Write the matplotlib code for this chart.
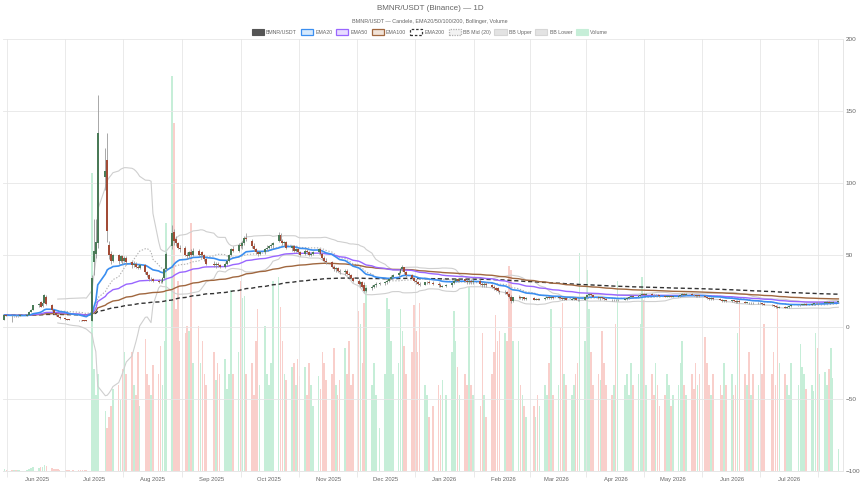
import numpy as np
import pandas as pd
import matplotlib
matplotlib.use("Agg")
import matplotlib.pyplot as plt
import matplotlib.dates as mdates
from matplotlib.patches import Patch
from matplotlib.ticker import FixedLocator, MultipleLocator

plt.rcParams['font.family'] = ['Liberation Sans', 'DejaVu Sans']

# ---------------- data ----------------
holidays = ['2025-05-26', '2025-06-19', '2025-07-04', '2025-09-01', '2025-11-27',
            '2025-12-25', '2026-01-01', '2026-01-19', '2026-02-16', '2026-04-03',
            '2026-05-25', '2026-06-19', '2026-07-03']
start_date = '2025-05-15'

opens = [
    # May 2025
    5.0, 8.2, 7.8, 7.5, 7.6, 7.4, 7.7, 7.9, 8.4, 10.6, 12.0,
    # Jun 2025
    15, 17.5, 14.5, 17, 21, 15, 11.5, 9.5, 8.2, 7.2, 6.2, 5.5, 5.1, 5.0, 4.8, 4.7, 4.6, 4.5, 4.4, 4.5,
    # Jul 2025
    45, 51, 58, 104, 116, 57, 51, 46, 50, 46, 49, 46, 48, 45, 43, 44, 42, 41, 43, 38, 36, 33,
    # Aug 2025
    33, 32, 31.5, 31, 34, 40, 56, 66, 61, 58, 55, 55, 50, 49, 52, 50, 53, 50, 52, 50, 47,
    # Sep 2025
    44, 43, 44, 43, 42, 44, 46, 50, 54, 53, 57, 56, 58, 62, 60, 56, 54, 52, 51, 52, 54,
    # Oct 2025
    55, 56, 57, 60, 64, 60, 58, 59, 55, 56, 53, 54, 52, 51, 53, 52, 50, 51, 52, 54, 51, 48, 46,
    # Nov 2025
    45, 42, 40, 41, 39, 38, 39, 37, 36, 34, 32, 30, 31, 29, 25, 27, 28, 29, 30,
    # Dec 2025
    30.5, 31, 32, 33.5, 35, 36, 37.5, 40, 41.5, 38, 36, 34, 32, 31, 30, 29.5, 31, 31.5, 30.5, 30, 29, 28,
    # Jan 2026
    28.5, 29, 30.5, 32, 33, 32, 33, 32, 31, 32, 31, 32, 30, 29, 30, 29, 28, 27, 27, 25,
    # Feb 2026
    24, 24, 23, 21, 18, 20.5, 21, 20, 20.5, 19.5, 20, 19, 19.5, 19, 19.5, 20, 20.5, 20, 20.5,
    # Mar 2026
    20, 20.5, 20, 19.5, 20, 19, 19.5, 20, 19, 18.5, 19, 20.5, 22, 23, 22, 21, 20, 20.5, 20, 19.5, 19, 18.5,
    # Apr 2026
    19, 18.5, 19, 19.5, 20, 21, 21.5, 21, 21.5, 22.5, 23, 22.5, 23, 22.5, 22, 22.5, 22, 21.5, 21, 21, 21.5,
    # May 2026
    21, 21, 21.5, 22, 23, 22.5, 23, 22.5, 22, 21.5, 22, 21.5, 21, 20, 19.5, 20, 19.5, 19, 18, 18.5,
    # Jun 2026
    18, 18.5, 18, 17.5, 18, 17.5, 17, 17, 16.5, 17, 16.5, 17, 16.5, 16, 15.5, 15, 14.5, 14, 13.5, 14, 13.5,
    # Jul 2026
    14, 14.5, 15, 15, 15.5, 15.5, 16, 15.5, 16, 16.5, 17, 16.5, 17, 17, 17.5, 17, 17, 17.5,
]

highs = [
    8.6, 8.5, 8.0, 7.9, 8.0, 7.8, 8.1, 8.8, 10.8, 12.5, 15.5,
    16.5, 18, 17.5, 23, 22.5, 16, 12, 10, 8.8, 7.6, 6.5, 5.8, 5.4, 5.2, 5.0, 4.9, 4.8, 4.7, 4.6, 36,
    75, 75, 161, 124, 135, 60, 53, 51, 51, 50, 50, 49, 49, 46, 46, 45, 43, 44, 44, 39, 37, 35,
    34, 33, 33, 35, 41, 52, 71, 68, 63, 59, 57, 56, 52, 53, 54, 55, 54, 52, 53, 51, 48,
    46, 45, 45, 44, 45, 47, 51, 55, 56, 58, 59, 60, 63, 65, 61, 58, 55, 53, 53, 55, 57,
    57, 58, 59, 66, 65, 61, 60, 60, 57, 57, 55, 55, 53, 54, 54, 53, 52, 53, 55, 54, 52, 49, 48,
    46, 43, 42, 42, 40, 40, 40, 38, 37, 35, 33, 32, 32, 31, 28, 29, 30, 31, 31,
    32, 33, 34, 36, 37, 39, 41, 43, 42, 39, 37, 35, 33, 32, 31, 31, 32, 32.5, 32, 31.5, 30.5, 29.5,
    30, 31, 33, 34, 34, 33.5, 34, 33, 33, 33, 33, 33, 31, 31, 31, 30, 29, 28, 28, 26,
    25.5, 25, 23.5, 22, 21, 22, 21.5, 21, 21, 20.5, 20.5, 20, 20, 20, 20.5, 21, 21, 21, 21,
    21, 21, 21, 20.5, 20.5, 20, 20.5, 20.5, 19.5, 19.5, 21, 22.5, 23.5, 23.5, 22.5, 21.5, 21, 21, 20.5, 20, 19.5, 19.5,
    19.5, 19.5, 20, 20.5, 21.5, 22, 22, 22, 23, 23.5, 23.5, 23.5, 23.5, 23, 23, 23, 22.5, 22, 21.5, 22, 22,
    21.5, 22, 22.5, 23.5, 23.5, 23.5, 23.5, 23, 22.5, 22.5, 22.5, 22, 21.5, 20.5, 20.5, 20.5, 20, 19.5, 19, 19,
    19, 19, 18.5, 18.5, 18.5, 18, 17.5, 17.5, 17.5, 17.5, 17.5, 17.5, 17, 16.5, 16, 15.5, 15, 14.5, 14.5, 14.5, 14.5,
    15, 15.5, 15.5, 16, 16, 16.5, 16.5, 16.5, 17, 17.5, 17.5, 17.5, 17.5, 18, 18, 17.5, 18, 18,
]

lows = [
    4.6, 7.4, 3.8, 7.0, 7.2, 7.0, 7.3, 7.6, 8.2, 10.2, 11.5,
    14, 13.8, 14, 16.5, 15, 11, 8.8, 7.5, 6.8, 5.8, 5.2, 4.9, 4.8, 4.6, 4.5, 4.4, 4.3, 4.2, 4.1, 4.3,
    36, 48, 55, 95, 59, 47, 44, 45, 44, 45, 44, 45, 43, 41, 42, 41, 40, 40, 37, 35, 32, 32,
    31, 30.5, 30.5, 30.5, 33, 39, 54, 57, 56, 54, 52, 49, 47, 48, 49, 49, 49, 48, 49, 46, 43,
    42, 41, 42, 41, 41, 43, 45, 49, 52, 52, 55, 54, 57, 60, 55, 53, 51, 49, 50, 51, 53,
    54, 55, 55, 59, 59, 57, 56, 54, 53, 52, 52, 51, 49, 50, 51, 49, 49, 50, 51, 50, 47, 45, 44,
    41, 39, 38, 38, 37, 36, 36, 35, 33, 31, 29, 28, 27, 24, 24, 26, 27, 28, 29,
    29.5, 30, 31, 33, 34, 35, 37, 39, 37, 35, 33, 31, 30, 29, 28.5, 29, 30, 30, 29, 28, 27.5, 27.5,
    27.5, 28, 30, 31, 31, 31, 31, 30, 30, 30, 30, 29, 28, 28, 28, 27, 26, 25, 24, 23,
    23, 22, 20, 17, 17.5, 19.5, 19.5, 19, 19, 19, 18.5, 18.5, 18.5, 18.5, 19, 19.5, 19.5, 19.5, 19.5,
    19.5, 19.5, 19, 19, 18.5, 18.5, 19, 18.5, 18, 18, 18.5, 20, 21.5, 21.5, 20.5, 19.5, 19, 19.5, 19, 18.5, 18, 18,
    18, 18, 18.5, 19, 19.5, 20.5, 20.5, 20.5, 21, 22, 22, 22, 22, 21.5, 21.5, 21.5, 21, 20.5, 20.5, 20.5, 20.5,
    20.5, 20.5, 21, 21.5, 22, 22, 22, 21.5, 21, 21, 21, 20.5, 19.5, 19, 19, 19, 18.5, 17.5, 17.5, 17.5,
    17.5, 17.5, 17, 17, 17, 16.5, 16.5, 16, 16, 16, 16, 16, 15.5, 15, 14.5, 14, 13.5, 13, 13, 13, 13,
    13.5, 14, 14.5, 14.5, 15, 15, 15, 15, 15.5, 16, 16, 16, 16.5, 16.5, 16.5, 16.5, 16.5, 17,
]

closes = [
    8.2, 7.8, 7.5, 7.6, 7.4, 7.7, 7.9, 8.4, 10.5, 12.0, 15.0,
    16, 14.2, 17, 22, 16, 12, 9.5, 8.2, 7.2, 6.2, 5.5, 5.1, 5.0, 4.8, 4.7, 4.6, 4.5, 4.4, 4.3, 34,
    53, 59, 135, 108, 67, 50, 46, 50, 46, 49, 46, 48, 45, 43, 44, 42, 41, 43, 38, 36, 33, 33,
    32, 31.5, 31, 34, 40, 51, 65, 60, 58, 55, 54, 50, 49, 52, 50, 53, 50, 51, 50, 47, 44,
    43, 44, 43, 42, 44, 46, 50, 54, 53, 57, 56, 58, 62, 61, 56, 54, 52, 51, 52, 54, 55,
    56, 57, 58, 64, 60, 58, 59, 55, 56, 53, 54, 52, 50, 53, 52, 50, 51, 52, 54, 51, 48, 46, 45,
    42, 40, 41, 39, 38, 39, 37, 36, 34, 32, 30, 31, 28, 25, 27, 28, 29, 30, 30.5,
    31, 32, 33.5, 35, 36, 37.5, 40.5, 41.5, 38, 36, 34, 32, 31, 30, 29.5, 31, 31.5, 30.5, 30, 29, 28, 28.5,
    29, 30.5, 32, 33, 32, 33, 32, 31, 32, 31, 32, 30, 29, 30, 29, 28, 27, 26, 25, 24,
    24, 23, 21, 18, 20.5, 21, 20, 20.5, 19.5, 20, 19, 19.5, 19, 19.5, 20, 20.5, 20, 20.5, 20,
    20.5, 20, 19.5, 20, 19, 19.5, 20, 19, 18.5, 19, 20.5, 22, 23, 22, 21, 20, 20.5, 20, 19.5, 19, 18.5, 19,
    18.5, 19, 19.5, 20, 21, 21.5, 21, 21.5, 22.5, 23, 22.5, 23, 22.5, 22, 22.5, 22, 21.5, 21, 21, 21.5, 21,
    21, 21.5, 22, 23, 22.5, 23, 22.5, 22, 21.5, 22, 21.5, 21, 20, 19.5, 20, 19.5, 19, 18, 18.5, 18,
    18.5, 18, 17.5, 18, 17.5, 17, 17, 16.5, 17, 16.5, 17, 16.5, 16, 15.5, 15, 14.5, 14, 13.5, 14, 13.5, 14,
    14.5, 15, 15, 15.5, 15.5, 16, 15.5, 16, 16.5, 17, 16.5, 17, 17, 17.5, 17, 17, 17.5, 17.5,
]

volumes = [
    0.8, 0.5, 0.6, 0.4, 0.4, 0.5, 0.4, 0.6, 0.9, 1.2, 1.8,
    1.5, 2.0, 1.8, 3.0, 2.5, 1.5, 1.0, 0.8, 0.7, 0.6, 0.5, 0.5, 0.4, 0.4, 0.4, 0.4, 0.3, 0.3, 0.4, 138,
    47, 35, 45, 28, 20, 25, 30, 38, 40, 33, 47, 55, 45, 55, 40, 35, 55, 30, 61, 45, 40, 35,
    49, 45, 58, 40, 60, 115, 183, 161, 75, 88, 60, 64, 67, 65, 115, 50, 67, 50, 60, 45, 40,
    55, 42, 50, 45, 52, 38, 45, 84, 45, 55, 88, 80, 81, 45, 50, 35, 60, 75, 40, 67, 45,
    40, 50, 88, 90, 76, 60, 45, 42, 48, 50, 40, 52, 44, 48, 35, 50, 40, 30, 44, 38, 55, 50, 42,
    45, 57, 40, 35, 42, 57, 45, 60, 40, 45, 74, 68, 50, 78, 86, 40, 50, 35, 20,
    45, 80, 75, 60, 45, 50, 75, 65, 58, 45, 55, 77, 65, 55, 78, 40, 35, 25, 30, 40, 35, 42,
    35, 55, 74, 60, 48, 35, 45, 40, 85, 40, 35, 30, 64, 35, 25, 45, 55, 72, 60, 65,
    64, 60, 95, 93, 60, 60, 40, 35, 30, 25, 30, 25, 35, 30, 40, 35, 50, 75, 35,
    40, 66, 78, 45, 40, 35, 40, 45, 50, 101, 60, 93, 75, 55, 40, 45, 42, 65, 50, 40, 35, 40,
    68, 88, 40, 45, 35, 50, 40, 45, 68, 90, 79, 40, 45, 35, 50, 40, 30, 35, 45, 40, 30,
    35, 40, 50, 60, 40, 35, 45, 38, 50, 40, 45, 62, 50, 40, 35, 45, 40, 35, 50, 40,
    45, 35, 40, 64, 79, 45, 40, 55, 35, 45, 40, 50, 45, 68, 45, 55, 40, 78, 50, 45, 40,
    35, 50, 40, 59, 48, 45, 38, 40, 37, 64, 57, 45, 46, 40, 47, 57, 43, 10,
]

n = min(len(opens), len(highs), len(lows), len(closes), len(volumes))
opens, highs, lows, closes, volumes = (np.array(a[:n], float) for a in (opens, highs, lows, closes, volumes))

cbd = pd.offsets.CustomBusinessDay(holidays=holidays)
dates = pd.date_range(start_date, periods=n, freq=cbd)
x = mdates.date2num(dates.to_pydatetime())

c = pd.Series(closes)
ema20 = c.ewm(span=20, adjust=False).mean()
ema50 = c.ewm(span=50, adjust=False).mean()
ema100 = c.ewm(span=100, adjust=False).mean()
ema200 = c.ewm(span=200, adjust=False).mean()
bb_mid = c.rolling(20).mean()
bb_std = c.rolling(20).std(ddof=0)
bb_up = bb_mid + 2 * bb_std
bb_lo = bb_mid - 2 * bb_std

# ---------------- figure ----------------
W, H = 860, 484
fig = plt.figure(figsize=(W / 100, H / 100), dpi=100)
fig.patch.set_facecolor('white')
pos = [3 / W, 13 / H, 840 / W, 432 / H]
axv = fig.add_axes(pos)
ax = fig.add_axes(pos, sharex=axv)
ax.patch.set_visible(False)

GRID = '#e6e6e6'
TXT = '#666666'

# volume (behind)
up = closes >= opens
vcol = np.where(up, '#c6eed8', '#f9cfcb')
axv.bar(x, volumes, width=0.85, color=vcol, linewidth=0, zorder=2)
axv.set_ylim(0, 200)
axv.set_yticks([])
for s in axv.spines.values():
    s.set_visible(False)

# price indicators
ax.plot(x, bb_up, color='#cfcfcf', lw=0.8, zorder=3)
ax.plot(x, bb_lo, color='#cfcfcf', lw=0.8, zorder=3)
ax.plot(x, bb_mid, color='#b0b0b0', lw=0.8, ls=(0, (1.2, 1.5)), zorder=3)
ax.plot(x, ema200, color='#333333', lw=1.0, ls=(0, (3, 2)), zorder=4)
ax.plot(x, ema100, color='#a0673f', lw=1.0, zorder=4)
ax.plot(x, ema50, color='#9966ff', lw=1.0, zorder=4)
ax.plot(x, ema20, color='#3a8ef0', lw=1.2, zorder=5)

# candles
UPC, DNC = '#4a7a57', '#a24b36'
ax.vlines(x, lows, highs, color='#9a9a9a', lw=0.6, zorder=6)
body_lo = np.minimum(opens, closes)
body_h = np.maximum(np.abs(closes - opens), 0.35)
ax.bar(x, body_h, bottom=body_lo, width=1.0, color=np.where(up, UPC, DNC),
       linewidth=0, zorder=7)

# axes styling
ax.set_ylim(-100, 200)
ax.yaxis.tick_right()
ax.yaxis.set_major_locator(MultipleLocator(50))
ax.grid(axis='y', color=GRID, lw=0.6, zorder=0)
ax.tick_params(axis='y', which='both', length=0, labelsize=4.6, labelcolor=TXT, pad=2)

x0 = mdates.date2num(pd.Timestamp('2025-05-14 06:00').to_pydatetime())
x1 = mdates.date2num(pd.Timestamp('2026-07-29 10:00').to_pydatetime())
ax.set_xlim(x0, x1)
month_starts = pd.date_range('2025-05-01', '2026-08-01', freq='MS')
ms = mdates.date2num(month_starts.to_pydatetime())
mids = (ms[:-1] + ms[1:]) / 2
ax.xaxis.set_major_locator(FixedLocator(ms))
ax.xaxis.set_major_formatter(mdates.DateFormatter('%b %Y'))
ax.xaxis.set_minor_locator(FixedLocator(mids))
ax.grid(axis='x', which='minor', color=GRID, lw=0.6, zorder=0)
ax.tick_params(axis='x', which='major', length=0, labelsize=4.2, labelcolor=TXT, pad=4)
ax.tick_params(axis='x', which='minor', length=4, width=0.6, color=GRID)
for name, s in ax.spines.items():
    if name in ('right', 'bottom'):
        s.set_color(GRID)
        s.set_linewidth(0.7)
    else:
        s.set_visible(False)
axv.tick_params(axis='x', which='both', labelbottom=False, length=0)

# titles
fig.text(0.5, 1 - 9 / H, 'BMNR/USDT (Binance) — 1D', ha='center', va='center',
         fontsize=5.8, color=TXT)
fig.text(0.5, 1 - 21 / H, 'BMNR/USDT — Candele, EMA20/50/100/200, Bollinger, Volume',
         ha='center', va='center', fontsize=3.9, color=TXT)

handles = [
    Patch(facecolor='#555555', edgecolor='#555555', lw=0.8),
    Patch(facecolor='#d6e9fc', edgecolor='#3a8ef0', lw=0.9),
    Patch(facecolor='#e8dcff', edgecolor='#9966ff', lw=0.9),
    Patch(facecolor='#f1e3d8', edgecolor='#a0673f', lw=0.9),
    Patch(facecolor='white', edgecolor='#333333', lw=0.9, ls=(0, (2, 1.5))),
    Patch(facecolor='#f2f2f2', edgecolor='#b0b0b0', lw=0.9, ls=(0, (1, 1))),
    Patch(facecolor='#e3e3e3', edgecolor='#d6d6d6', lw=0.8),
    Patch(facecolor='#e3e3e3', edgecolor='#d6d6d6', lw=0.8),
    Patch(facecolor='#c6eed8', edgecolor='#c6eed8', lw=0.8),
]
labels = ['BMNR/USDT', 'EMA20', 'EMA50', 'EMA100', 'EMA200', 'BB Mid (20)',
          'BB Upper', 'BB Lower', 'Volume']
fig.legend(handles, labels, loc='center', bbox_to_anchor=(0.5, 1 - 32 / H), ncol=9,
           frameon=False, fontsize=3.8, labelcolor=TXT, handlelength=2.3,
           handleheight=1.5, handletextpad=0.4, columnspacing=0.75, borderaxespad=0)

fig.savefig('out.png', dpi=100, facecolor='white')
